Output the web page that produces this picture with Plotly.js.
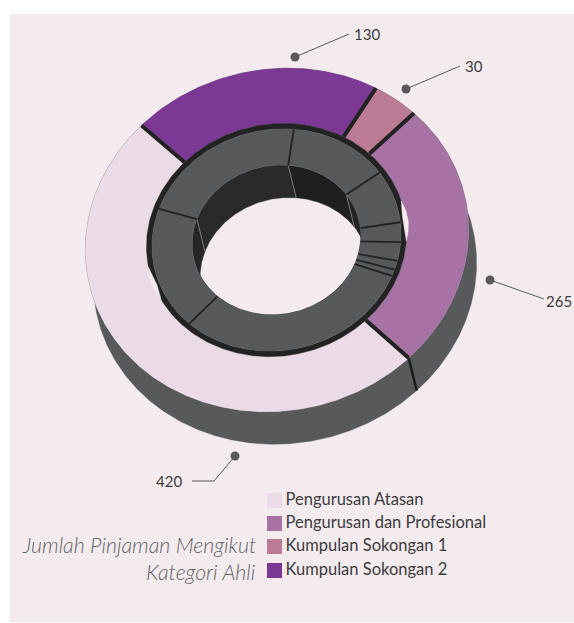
<!DOCTYPE html>
<html>
<head>
<meta charset="utf-8">
<script src="https://cdn.plot.ly/plotly-3.0.0.min.js"></script>
<style>html,body{margin:0;padding:0;background:#fff}#chart{width:574px;height:623px}</style>
</head>
<body>
<div id="chart"></div>
<script>
// ---- data ----
var categories = ['Pengurusan Atasan', 'Pengurusan dan Profesional', 'Kumpulan Sokongan 1', 'Kumpulan Sokongan 2'];
var outerValues = [420, 265, 30, 130];
// inner ring is unlabelled: estimated, clockwise from the top divider
var innerValues = [96, 72, 30, 30, 15, 11, 342, 121, 128];
var colors = ['#ebdbe6', '#a773a5', '#bc7b95', '#7b3995'];
var chartTitle = ['Jumlah Pinjaman Mengikut', 'Kategori Ahli'];

// ---- view (perspective disc) ----
var total = outerValues.reduce(function (a, b) { return a + b; }, 0);
var K = 0.675, AXIS = 135, INNER_START = 144;
var TILT_A = 0.9925, TILT_B = 0.0275;
var SHIFT = [8, 32.5];
var E_OUT = [277, 240, 193, 173], E_MID = [276.5, 240, 131, 117.5];
var E_GREY = [276.5, 240, 125.5, 112], E_HOLE = [276.5, 240, 85, 75.5];
var GREY = '#58595b', DARK = '#232323', BG = '#f4ebef', TEXT = '#3c3c3e';
var rad = Math.PI / 180;
var FONT = 'Lato, "Noto Sans", sans-serif';

function viewAngle(phi) {
  var p = ((phi + 180) % 360 + 360) % 360 - 180;
  return AXIS - 2 * Math.atan(K * Math.tan(p * rad / 2)) / rad;
}
function onEllipse(e, t, f, d) {
  var u = Math.sin(t) * f, v = Math.cos(t) * f;
  return [e[0] + e[2] * (TILT_A * u + TILT_B * v) + d[0], e[1] - e[3] * (TILT_B * u + TILT_A * v) + d[1]];
}
function pt(e, phi, s) {
  return onEllipse(e, viewAngle(phi) * rad, 1, s ? SHIFT : [0, 0]);
}
function samples(a, b) {
  var n = Math.max(6, Math.ceil(Math.abs(b - a) * 1.5)), r = [];
  for (var i = 0; i <= n; i++) r.push(a + (b - a) * i / n);
  return r;
}
function fillTrace(xs, ys, color) {
  return { x: xs, y: ys, type: 'scatter', mode: 'lines', fill: 'toself', fillcolor: color,
           line: { color: color, width: 0.4 }, hoverinfo: 'skip', showlegend: false };
}
function poly(a, b, e1, s1, e2, s2, color) {
  var f = samples(a, b), xs = [], ys = [];
  f.forEach(function (p) { var q = pt(e1, p, s1); xs.push(q[0]); ys.push(q[1]); });
  f.reverse().forEach(function (p) { var q = pt(e2, p, s2); xs.push(q[0]); ys.push(q[1]); });
  xs.push(xs[0]); ys.push(ys[0]);
  return fillTrace(xs, ys, color);
}
function seg(p, q, color, width) {
  return { x: [p[0], q[0]], y: [p[1], q[1]], type: 'scatter', mode: 'lines',
           line: { color: color, width: width }, hoverinfo: 'skip', showlegend: false };
}
// small lens of page colour where the collar does not touch the outer ring
function lens(t1, t2, out, inn) {
  var xs = [], ys = [], i, s, q, n = 16;
  for (i = 0; i <= n; i++) {
    s = i / n; q = onEllipse(E_MID, (t1 + (t2 - t1) * s) * rad, 1 + out * Math.sin(Math.PI * s), [0, 0]);
    xs.push(q[0]); ys.push(q[1]);
  }
  for (i = n; i >= 0; i--) {
    s = i / n; q = onEllipse(E_MID, (t1 + (t2 - t1) * s) * rad, 1 - inn * Math.sin(Math.PI * s), [0, 0]);
    xs.push(q[0]); ys.push(q[1]);
  }
  return fillTrace(xs, ys, BG);
}

var traces = [];
var outerEdges = [-outerValues[0] * 360 / total];
outerValues.forEach(function (v, i) { outerEdges.push(outerEdges[i] + v * 360 / total); });
var innerEdges = [INNER_START];
innerValues.forEach(function (v, i) { innerEdges.push(innerEdges[i] - v * 360 / total); });

outerValues.forEach(function (v, i) {
  traces.push(poly(outerEdges[i], outerEdges[i + 1], E_OUT, false, E_OUT, true, GREY));
});
outerValues.forEach(function (v, i) {
  traces.push(poly(outerEdges[i], outerEdges[i + 1], E_OUT, false, E_MID, false, colors[i]));
});
outerEdges.slice(0, -1).forEach(function (f) {
  traces.push(seg(pt(E_MID, f), pt(E_OUT, f), DARK, 4));
  if (Math.cos(viewAngle(f) * rad) < 0) traces.push(seg(pt(E_OUT, f), pt(E_OUT, f, true), '#1c1c1c', 2.5));
});
traces.push(poly(0, 360, E_MID, false, E_GREY, false, DARK));
traces.push(lens(72, 92, 0.018, 0.022));
traces.push(lens(241, 258, 0.012, 0.022));
var wallShades = ['#1f1f1f', '#232323', '#232323', '#232323', '#232323', '#232323', '#232323', '#262626', '#2a2a2a'];
innerValues.forEach(function (v, i) {
  traces.push(poly(innerEdges[i], innerEdges[i + 1], E_HOLE, false, E_HOLE, true, wallShades[i]));
});
innerEdges.slice(0, -1).forEach(function (f) {
  traces.push(seg(pt(E_HOLE, f), pt(E_HOLE, f, true), '#8c8c8c', 0.8));
});
innerValues.forEach(function (v, i) {
  traces.push(poly(innerEdges[i], innerEdges[i + 1], E_GREY, false, E_HOLE, false, GREY));
});
innerEdges.slice(0, -1).forEach(function (f) {
  traces.push(seg(pt(E_HOLE, f), pt(E_GREY, f), DARK, 1.8));
});

// legend as squares + text
var legendY = [500.5, 523.5, 546.5, 570.5];
traces.push({
  x: categories.map(function () { return 274.5; }), y: legendY,
  type: 'scatter', mode: 'markers',
  marker: { symbol: 'square', size: 15, color: colors, line: { width: 0 } },
  hoverinfo: 'skip', showlegend: false
});
traces.push({
  x: categories.map(function () { return 285.5; }), y: legendY, text: categories,
  type: 'scatter', mode: 'text', textposition: 'middle right',
  textfont: { family: FONT, size: 16.5, color: TEXT },
  hoverinfo: 'skip', showlegend: false
});

// leaders: dot, elbow, label
var leaders = [
  { v: 3, path: [[295, 57], [349, 34]], at: [352, 34], anchor: 'left' },
  { v: 2, path: [[406, 89], [460, 66]], at: [463, 66], anchor: 'left' },
  { v: 1, path: [[490, 280], [544, 299]], at: [574, 301], anchor: 'right' },
  { v: 0, path: [[235, 456], [214, 481], [192, 481]], at: [184, 481], anchor: 'right' }
];
var shapes = [{ type: 'rect', xref: 'x', yref: 'y', x0: 10, x1: 574, y0: 14, y1: 622,
                fillcolor: BG, line: { width: 0 }, layer: 'below' }];
var annotations = [];
leaders.forEach(function (l) {
  for (var i = 0; i < l.path.length - 1; i++) {
    shapes.push({ type: 'line', xref: 'x', yref: 'y', x0: l.path[i][0], y0: l.path[i][1],
                  x1: l.path[i + 1][0], y1: l.path[i + 1][1], line: { color: GREY, width: 1 } });
  }
  var d = l.path[0];
  shapes.push({ type: 'circle', xref: 'x', yref: 'y', x0: d[0] - 4.5, x1: d[0] + 4.5, y0: d[1] - 4.5, y1: d[1] + 4.5,
                fillcolor: GREY, line: { width: 0 } });
  annotations.push({ x: l.at[0], y: l.at[1], xref: 'x', yref: 'y', text: String(outerValues[l.v]), showarrow: false,
                     xanchor: l.anchor, yanchor: 'middle',
                     font: { family: FONT, size: 15, color: TEXT } });
});
chartTitle.forEach(function (t, i) {
  annotations.push({ x: 258, y: [545, 572][i], xref: 'x', yref: 'y', text: '<i>' + t + '</i>', showarrow: false,
                     xanchor: 'right', yanchor: 'middle',
                     font: { family: FONT, size: 21.3, color: '#636466', weight: 300 } });
});

Plotly.newPlot('chart', traces, {
  width: 574, height: 623, margin: { l: 0, r: 0, t: 0, b: 0 },
  paper_bgcolor: '#ffffff', plot_bgcolor: 'rgba(0,0,0,0)', showlegend: false,
  xaxis: { range: [0, 574], visible: false, fixedrange: true },
  yaxis: { range: [623, 0], visible: false, fixedrange: true },
  shapes: shapes, annotations: annotations
}, { displayModeBar: false, staticPlot: true });
</script>
</body>
</html>
